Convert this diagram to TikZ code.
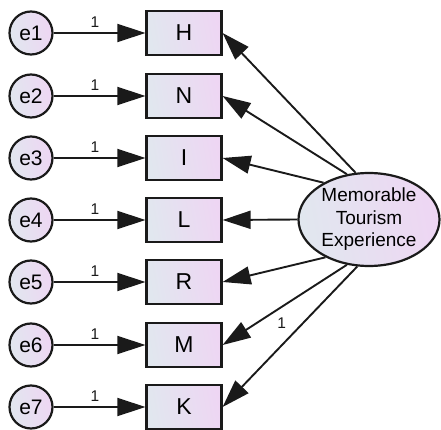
\documentclass[tikz,border=0pt]{standalone}
\usepackage{fontspec}
\setmainfont{Liberation Sans}
\usetikzlibrary{shapes.geometric,arrows.meta}

\definecolor{shadeA}{HTML}{E1E7EF}
\definecolor{shadeB}{HTML}{EED6F3}
\definecolor{ink}{HTML}{1A1A1A}

\tikzset{
  filled/.style={draw=ink, line width=2.2pt, shading=axis, left color=shadeA, right color=shadeB, shading angle=100},
  errvar/.style={filled, circle, minimum size=43pt, inner sep=0pt, font=\fontsize{21}{21}\selectfont},
  obsvar/.style={filled, rectangle, minimum width=75pt, minimum height=44pt, inner sep=0pt, font=\fontsize{23}{23}\selectfont},
  latvar/.style={filled, ellipse, minimum width=141pt, minimum height=93pt, inner sep=0pt, align=center, font=\fontsize{19}{22.5}\selectfont},
  path/.style={draw=ink, line width=1.9pt, -{Triangle[length=28pt, width=18pt]}},
  wlabel/.style={font=\fontsize{15.5}{15.5}\selectfont, text=ink, inner sep=1pt}
}

\begin{document}
\begin{tikzpicture}[x=1pt, y=-1pt]
  \useasboundingbox (0,0) rectangle (441,430);

  % latent factor
  \node[latvar] (mte) at (369,219.5) {\raisebox{-4pt}{\shortstack{Memorable\\[5.5pt]Tourism\\[5.5pt]Experience}}};

  % indicators and their error terms
  \foreach \nm/\lab/\yy in {1/H/33, 2/N/96, 3/I/158, 4/L/220, 5/R/282, 6/M/345, 7/K/407}{
    \node[obsvar] (ob\nm) at (184,\yy) {\lab};
    \node[errvar] (er\nm) at (31,\yy) {e\nm};
    \draw[path] (er\nm) -- node[wlabel, pos=0.45, above=4pt] {1} (ob\nm.west);
  }

  % factor loadings
  \draw[path] (mte.106) -- (ob1.east);
  \draw[path] (mte.116) -- (ob2.east);
  \draw[path] (mte.141) -- (ob3.east);
  \draw[path] (mte.180) -- (ob4.east);
  \draw[path] (mte.221) -- (ob5.east);
  \draw[path] (mte.244) -- (ob6.east);
  \draw[path] (mte.256) -- node[wlabel, pos=0.48, xshift=-11pt, yshift=11pt] {1} (ob7.east);
\end{tikzpicture}
\end{document}
